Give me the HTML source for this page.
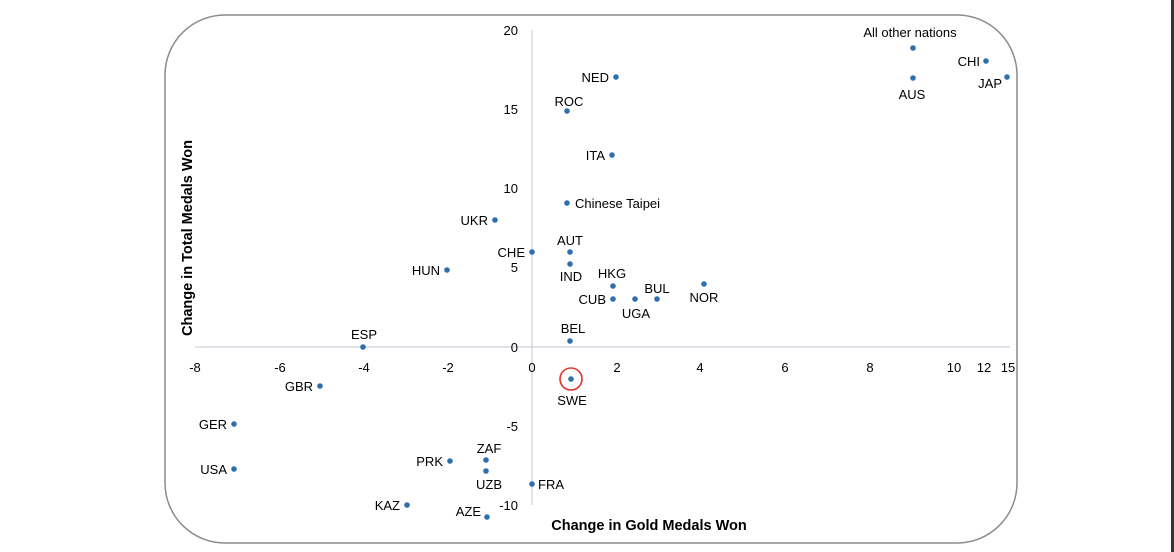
<!DOCTYPE html>
<html><head><meta charset="utf-8"><style>
html,body{margin:0;padding:0;background:#fff;}
svg{display:block;font-family:"Liberation Sans",sans-serif;}
.t{font-size:13px;fill:#000;}
.p{fill:#2e6fad;}
</style></head><body>
<svg width="1174" height="552" viewBox="0 0 1174 552">
<rect x="0" y="0" width="1174" height="552" fill="#fff"/>
<rect x="1171" y="0" width="3" height="552" fill="#333"/>
<rect x="165" y="15" width="852" height="528" rx="60" ry="60" fill="none" stroke="#8c8c8c" stroke-width="1.5"/>
<line x1="532" y1="30" x2="532" y2="505" stroke="#c0c8d4" stroke-width="1"/>
<line x1="195" y1="347" x2="1010" y2="347" stroke="#c0c8d4" stroke-width="1"/>
<g class="t" text-anchor="middle">
<text x="195" y="372">-8</text><text x="280" y="372">-6</text><text x="364" y="372">-4</text>
<text x="448" y="372">-2</text><text x="532" y="372">0</text><text x="617" y="372">2</text>
<text x="700" y="372">4</text><text x="785" y="372">6</text><text x="870" y="372">8</text>
<text x="954" y="372">10</text><text x="984" y="372">12</text><text x="1008" y="372">15</text>
</g>
<g class="t" text-anchor="end">
<text x="518" y="35">20</text><text x="518" y="114">15</text><text x="518" y="193">10</text>
<text x="518" y="272">5</text><text x="518" y="352">0</text><text x="518" y="431">-5</text>
<text x="518" y="510">-10</text>
</g>
<text x="649" y="530" text-anchor="middle" font-size="14.5" font-weight="bold">Change in Gold Medals Won</text>
<text transform="translate(192,238) rotate(-90)" text-anchor="middle" font-size="14.5" font-weight="bold">Change in Total Medals Won</text>
<g class="p">
<circle cx="913" cy="48" r="2.8"/><circle cx="986" cy="61" r="2.8"/><circle cx="1007" cy="77" r="2.8"/>
<circle cx="913" cy="78" r="2.8"/><circle cx="616" cy="77" r="2.8"/><circle cx="567" cy="111" r="2.8"/>
<circle cx="612" cy="155" r="2.8"/><circle cx="567" cy="203" r="2.8"/><circle cx="495" cy="220" r="2.8"/>
<circle cx="532" cy="252" r="2.8"/><circle cx="570" cy="252" r="2.8"/><circle cx="570" cy="264" r="2.8"/>
<circle cx="447" cy="270" r="2.8"/><circle cx="613" cy="286" r="2.8"/><circle cx="613" cy="299" r="2.8"/>
<circle cx="635" cy="299" r="2.8"/><circle cx="657" cy="299" r="2.8"/><circle cx="704" cy="284" r="2.8"/>
<circle cx="570" cy="341" r="2.8"/><circle cx="363" cy="347" r="2.8"/><circle cx="571" cy="379" r="2.8"/>
<circle cx="320" cy="386" r="2.8"/><circle cx="234" cy="424" r="2.8"/><circle cx="450" cy="461" r="2.8"/>
<circle cx="486" cy="460" r="2.8"/><circle cx="486" cy="471" r="2.8"/><circle cx="532" cy="484" r="2.8"/>
<circle cx="234" cy="469" r="2.8"/><circle cx="407" cy="505" r="2.8"/><circle cx="487" cy="517" r="2.8"/>
</g>
<circle cx="571" cy="379" r="11" fill="none" stroke="#e0332a" stroke-width="1.6"/>
<g class="t">
<text x="910" y="37" text-anchor="middle">All other nations</text>
<text x="980" y="66" text-anchor="end">CHI</text>
<text x="1002" y="88" text-anchor="end">JAP</text>
<text x="912" y="99" text-anchor="middle">AUS</text>
<text x="609" y="82" text-anchor="end">NED</text>
<text x="569" y="106" text-anchor="middle">ROC</text>
<text x="605" y="160" text-anchor="end">ITA</text>
<text x="575" y="208">Chinese Taipei</text>
<text x="488" y="225" text-anchor="end">UKR</text>
<text x="525" y="257" text-anchor="end">CHE</text>
<text x="570" y="245" text-anchor="middle">AUT</text>
<text x="571" y="281" text-anchor="middle">IND</text>
<text x="440" y="275" text-anchor="end">HUN</text>
<text x="612" y="278" text-anchor="middle">HKG</text>
<text x="606" y="304" text-anchor="end">CUB</text>
<text x="636" y="318" text-anchor="middle">UGA</text>
<text x="657" y="293" text-anchor="middle">BUL</text>
<text x="704" y="302" text-anchor="middle">NOR</text>
<text x="573" y="333" text-anchor="middle">BEL</text>
<text x="364" y="339" text-anchor="middle">ESP</text>
<text x="572" y="405" text-anchor="middle">SWE</text>
<text x="313" y="391" text-anchor="end">GBR</text>
<text x="227" y="429" text-anchor="end">GER</text>
<text x="443" y="466" text-anchor="end">PRK</text>
<text x="489" y="453" text-anchor="middle">ZAF</text>
<text x="489" y="489" text-anchor="middle">UZB</text>
<text x="538" y="489">FRA</text>
<text x="227" y="474" text-anchor="end">USA</text>
<text x="400" y="510" text-anchor="end">KAZ</text>
<text x="481" y="516" text-anchor="end">AZE</text>
</g>
</svg>
</body></html>
